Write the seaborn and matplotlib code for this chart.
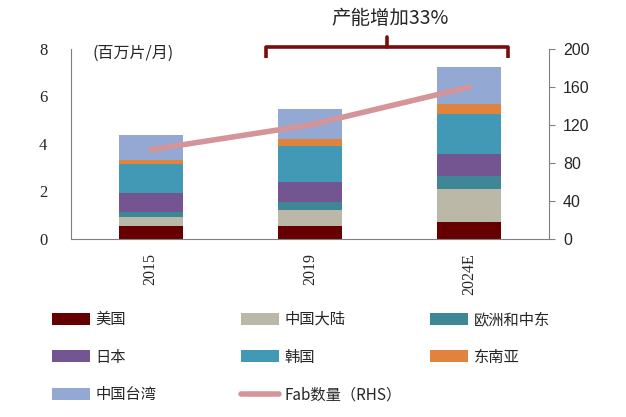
import seaborn as sns
import matplotlib.pyplot as plt
import numpy as np
import pandas as pd
from matplotlib.patches import Patch
from matplotlib.lines import Line2D

# data (百万片/月)
years = ["2015", "2019", "2024E"]
regions = ["美国", "中国大陆", "欧洲和中东", "日本", "韩国", "东南亚", "中国台湾"]
usa = [0.53, 0.56, 0.70]
china = [0.38, 0.66, 1.41]
eu_me = [0.21, 0.34, 0.56]
japan = [0.83, 0.84, 0.91]
korea = [1.19, 1.53, 1.67]
sea = [0.20, 0.27, 0.42]
taiwan = [1.05, 1.29, 1.58]
fab_count = [94, 120, 160]

colors = ["#660000", "#BCB8A8", "#3D8796", "#735592", "#4299B5", "#E0843D", "#93A9D3"]
line_color = "#D4959A"

sns.set_style("white")
plt.rcParams['font.family'] = ['Noto Sans CJK SC', 'DejaVu Sans']

df = pd.DataFrame([usa, china, eu_me, japan, korea, sea, taiwan], index=regions, columns=years).T
cum = df.cumsum(axis=1)

fig = plt.figure(figsize=(6.26, 4.17), dpi=100)
ax = fig.add_axes([0.1134, 0.4269, 0.7636, 0.4556])

# stacked bars: draw tallest cumulative first
for reg, col in reversed(list(zip(regions, colors))):
    sns.barplot(x=years, y=cum[reg].values, color=col, width=0.4, ax=ax,
                saturation=1, edgecolor="none", linewidth=0)

ax.set_xlim(-0.5, 2.5)
ax.set_ylim(0, 8)
ax.set_yticks(range(0, 9, 2))
serif = ['Liberation Serif', 'DejaVu Serif']
ax.set_yticklabels([str(v) for v in range(0, 9, 2)], family=serif, fontsize=12)
ax.set_xticks([0, 1, 2])
ax.set_xticklabels(years, rotation=90, family=serif, fontsize=11.5)
ax.tick_params(axis='x', length=0, pad=10)
ax.set_xticks([-0.5, 0.5, 1.5, 2.5], minor=True)
ax.tick_params(axis='x', which='minor', length=5, color="#808080", direction='out')
ax.tick_params(axis='y', length=0, pad=17)
for s in ["top", "right"]:
    ax.spines[s].set_visible(False)
for s in ["left", "bottom"]:
    ax.spines[s].set_color("#808080")
ax.text(0.044, 0.975, "(百万片/月)", transform=ax.transAxes, fontsize=11.5, va='center', ha='left')

ax2 = ax.twinx()
sns.lineplot(x=[0, 1, 2], y=fab_count, color=line_color, linewidth=4, ax=ax2)
ax2.set_ylim(0, 200)
ax2.set_yticks(range(0, 201, 40))
ax2.set_yticklabels([str(v) for v in range(0, 201, 40)], family=['Liberation Sans', 'DejaVu Sans'], fontsize=11.5)
ax2.tick_params(axis='y', length=4, color="#808080", direction='out', pad=6)
for s in ["top", "left", "bottom"]:
    ax2.spines[s].set_visible(False)
ax2.spines["right"].set_color("#808080")
ax2.set_ylabel("")

# bracket + annotation
br = "#7A0C0C"
bx0, bx1, by = 0.725, 2.24, 8.08
ax.plot([bx0, bx0, bx1, bx1], [7.62, by, by, 7.62], color=br, lw=2.6,
        clip_on=False, solid_joinstyle='round', solid_capstyle='butt')
mid = (bx0 + bx1) / 2
ax.plot([mid, mid], [by, 8.5], color=br, lw=2.6, clip_on=False)
fig.text(390 / 626, 1 - 18 / 417, "产能增加33%", ha='center', va='center', fontsize=14)

handles = [Patch(facecolor=c, edgecolor='none') for c in colors]
handles.append(Line2D([0], [0], color=line_color, lw=4))
labels = regions + ["Fab数量（RHS）"]
columns = [[0, 3, 6], [1, 4, 7], [2, 5]]
col_x = [52, 241, 430]
for cols, x in zip(columns, col_x):
    fig.legend([handles[i] for i in cols], [labels[i] for i in cols],
               loc='upper left', bbox_to_anchor=(x / 626, 1 - 311 / 417),
               ncol=1, frameon=False, borderpad=0, borderaxespad=0,
               fontsize=11, handlelength=2.5, handleheight=0.8, handletextpad=0.35,
               labelspacing=1.35)

fig.savefig("out.png", dpi=100)
